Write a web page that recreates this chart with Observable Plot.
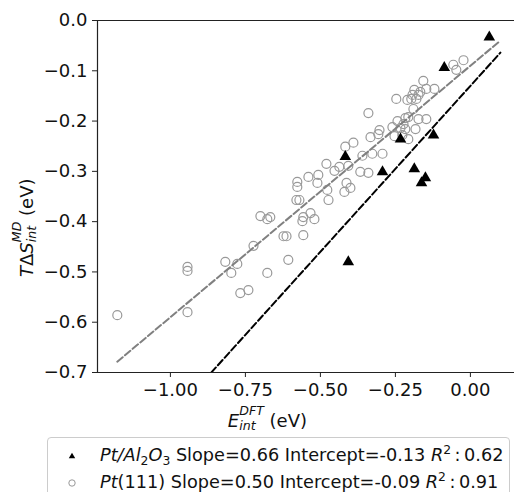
<!DOCTYPE html>
<html><head><meta charset="utf-8">
<script src="https://cdn.jsdelivr.net/npm/d3@7"></script>
<script src="https://cdn.jsdelivr.net/npm/@observablehq/plot@0.6"></script>
<style>
html,body{margin:0;padding:0;background:#fff;overflow:hidden;}
#wrap{position:relative;width:514px;height:492px;font-family:"DejaVu Sans",sans-serif;overflow:hidden;}
#wrap svg{display:block;}
#legend{position:absolute;left:47px;top:437px;width:461px;height:80px;border:1px solid #ccc;border-radius:4px;background:#fff;font-size:17.7px;color:#111;}
.row{position:absolute;left:52px;white-space:nowrap;line-height:20px;}
.row sub,.row sup{font-size:0.7em;line-height:0;}
.row sub{vertical-align:-0.3em;}
.row sup{vertical-align:0.55em;}
.mk{position:absolute;left:16px;}
</style></head><body><div id="wrap"><div id="legend"></div></div>
<script>
// Pt/Al2O3 (filled triangles)
const ptAlX = [0.063, -0.087, -0.417, -0.233, -0.123, -0.293, -0.187, -0.150, -0.163, -0.407];
const ptAlY = [-0.033, -0.094, -0.271, -0.236, -0.228, -0.301, -0.295, -0.313, -0.323, -0.480];
// Pt(111) (hollow circles)
const pt111X = [-1.177, -0.943, -0.943, -0.943, -0.817, -0.777, -0.797, -0.767, -0.740, -0.723,
  -0.677, -0.700, -0.677, -0.667, -0.623, -0.613, -0.607, -0.580, -0.570, -0.577,
  -0.577, -0.557, -0.533, -0.520, -0.560, -0.557, -0.540, -0.507, -0.510, -0.477,
  -0.473, -0.420, -0.413, -0.400, -0.480, -0.453, -0.437, -0.417, -0.390, -0.407,
  -0.367, -0.340, -0.360, -0.327, -0.293, -0.340, -0.333, -0.307, -0.303, -0.260,
  -0.253, -0.243, -0.223, -0.233, -0.217, -0.207, -0.183, -0.247, -0.210, -0.197,
  -0.180, -0.190, -0.193, -0.173, -0.187, -0.167, -0.147, -0.120, -0.157, -0.057,
  -0.047, -0.023, -0.217, -0.207, -0.173, -0.147, -0.227];
const pt111Y = [-0.586, -0.490, -0.498, -0.580, -0.480, -0.484, -0.502, -0.542, -0.536, -0.448,
  -0.502, -0.389, -0.395, -0.391, -0.429, -0.429, -0.476, -0.357, -0.357, -0.321,
  -0.331, -0.391, -0.383, -0.395, -0.399, -0.427, -0.311, -0.307, -0.323, -0.337,
  -0.357, -0.341, -0.323, -0.333, -0.285, -0.299, -0.291, -0.251, -0.243, -0.289,
  -0.301, -0.303, -0.269, -0.265, -0.265, -0.184, -0.232, -0.226, -0.218, -0.212,
  -0.230, -0.200, -0.206, -0.214, -0.216, -0.236, -0.216, -0.156, -0.158, -0.156,
  -0.156, -0.176, -0.148, -0.148, -0.138, -0.142, -0.136, -0.136, -0.120, -0.088,
  -0.098, -0.079, -0.194, -0.192, -0.196, -0.196, -0.228];
const xTicks = [-1.00, -0.75, -0.50, -0.25, 0.00];
const yTicks = [0.0, -0.1, -0.2, -0.3, -0.4, -0.5, -0.6, -0.7];
const xDomain = [-1.243, 0.147];
const yDomain = [-0.7, 0.0];
const fitAl = {slope: 0.66, intercept: -0.13, r2: 0.62};
const fit111 = {slope: 0.50, intercept: -0.09, r2: 0.91};
const fitXEnd = 0.1;

const ptAl = ptAlX.map((x, i) => ({x, y: ptAlY[i]}));
const pt111 = pt111X.map((x, i) => ({x, y: pt111Y[i]}));
const fitXs = [d3.min(pt111X.concat(ptAlX)), fitXEnd];
const line111 = fitXs.map(x => ({x, y: fit111.slope * x + fit111.intercept}));
const lineAl = fitXs.map(x => ({x, y: fitAl.slope * x + fitAl.intercept}));

const chart = Plot.plot({
  width: 514, height: 437,
  marginLeft: 97, marginRight: 0, marginTop: 20, marginBottom: 65,
  x: {domain: xDomain},
  y: {domain: yDomain},
  style: {fontFamily: "DejaVu Sans", fontSize: "18px", color: "#111", background: "#fff", overflow: "visible"},
  marks: [
    Plot.dot(pt111, {x: "x", y: "y", r: 4.5, stroke: "#999", strokeWidth: 1.2, fill: "none"}),
    Plot.line(line111, {x: "x", y: "y", stroke: "#808080", strokeWidth: 2, strokeDasharray: "7,3", clip: true}),
    Plot.line(lineAl, {x: "x", y: "y", stroke: "#000", strokeWidth: 2, strokeDasharray: "7,3", clip: true}),
    Plot.dot(ptAl, {x: "x", y: "y", symbol: "triangle", r: 4.3, fill: "#000", stroke: "none"}),
    Plot.ruleX([xDomain[0]], {stroke: "#222", strokeWidth: 1.2}),
    Plot.ruleY(yDomain, {stroke: "#222", strokeWidth: 1.2}),
    Plot.axisX({ticks: xTicks, tickFormat: d3.format(".2f"), tickSize: 5, tickPadding: 6, fontSize: 18, label: null, stroke: "#222"}),
    Plot.axisY({ticks: yTicks, tickFormat: d3.format(".1f"), tickSize: 5, tickPadding: 5, fontSize: 18, label: null, stroke: "#222"})
  ]
});
const wrap = document.getElementById("wrap");
wrap.insertBefore(chart, wrap.firstChild);
const svg = d3.select(chart);

function mathLabel(subT, supT, rest, lead) {
  const t = svg.append("text").attr("font-family", "DejaVu Sans").attr("font-size", 18).attr("fill", "#111");
  lead.forEach(p => t.append("tspan").attr("font-style", p[1] ? "italic" : "normal").text(p[0]));
  const sub = t.append("tspan").attr("font-style", "italic").attr("font-size", 12.6).attr("dy", 3).text(subT);
  const sup = t.append("tspan").attr("font-style", "italic").attr("font-size", 12.6).attr("dy", -15.5).text(supT);
  t.append("tspan").attr("dy", 12.5).text(rest);
  sup.attr("dx", -sub.node().getComputedTextLength());
  return t;
}
const xl = mathLabel("int", "DFT", " (eV)", [["E", true]]);
const xw = xl.node().getBBox().width;
xl.attr("transform", `translate(${307 - xw / 2},427)`);
const yl = mathLabel("int", "MD", " (eV)", [["T", true], ["Δ", false], ["S", true]]);
const yw = yl.node().getBBox().width;
yl.attr("transform", `translate(33,${178.5 + yw / 2}) rotate(-90)`);

// legend
const legend = d3.select("#legend");
const r1 = legend.append("div").attr("class", "row").style("top", "7px");
r1.html('<i>Pt/Al</i><sub>2</sub><i>O</i><sub>3</sub> Slope=0.66 Intercept=-0.13 <i>R</i><sup>2</sup>&thinsp;:&thinsp;0.62');
const r2 = legend.append("div").attr("class", "row").style("top", "34px");
r2.html('<i>Pt</i>(111) Slope=0.50 Intercept=-0.09 <i>R</i><sup>2</sup>&thinsp;:&thinsp;0.91');
const m1 = legend.append("svg").attr("class", "mk").attr("width", 16).attr("height", 16).style("top", "10px");
m1.append("path").attr("transform", "translate(8,8.5)").attr("d", d3.symbol(d3.symbolTriangle, 18)()).attr("fill", "#000");
const m2 = legend.append("svg").attr("class", "mk").attr("width", 16).attr("height", 16).style("top", "37px");
m2.append("circle").attr("cx", 8).attr("cy", 8).attr("r", 3.2).attr("fill", "none").attr("stroke", "#999").attr("stroke-width", 1);
</script>
</body></html>
